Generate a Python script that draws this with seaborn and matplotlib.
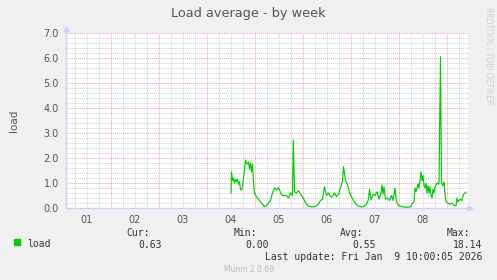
import numpy as np
import pandas as pd
import matplotlib
matplotlib.use("Agg")
import matplotlib.pyplot as plt
import seaborn as sns
from matplotlib.ticker import FixedLocator

# ---- data (hours since Jan 1 00:00, load average) ----
hours = [84.25, 84.5, 85, 85.5, 86, 86.5, 87, 87.5, 88, 88.5, 89, 89.5, 90, 90.5,
         91, 91.5, 92, 92.5, 93, 93.5, 94, 94.5, 95, 95.5, 96, 97, 98, 99, 100, 101,
         102, 103, 104, 105, 106, 107, 108, 109, 110, 111, 112, 113, 114, 115, 115.4,
         116, 117, 118, 119, 120, 121, 122, 123, 124, 125, 126, 127, 128, 129, 130,
         131, 132, 133, 134, 135, 136, 137, 138, 139, 140, 140.5, 141.5, 142.5, 143.5,
         144.5, 145.5, 146.5, 147.5, 149, 150.5, 152, 153, 153.5, 154.25, 155.25,
         156.25, 157.25, 158.25, 159.25, 159.75, 160.25, 160.75, 161.5, 162.5, 163.5,
         164.5, 165.25, 166.25, 167, 168, 170, 172, 174, 175, 175.75, 176.25, 176.75,
         177.75, 178.25, 178.75, 179.25, 179.75, 180.25, 180.75, 181.25, 181.75,
         182.25, 182.75, 183.25, 183.75, 184.25, 184.75, 185.25, 185.75, 186.25,
         187.25, 188.25, 189, 189.5, 190.25, 190.75, 191.25, 191.75, 192.75, 193.75,
         194.75, 195.75, 196.75, 197.25, 197.75, 198.75, 199.75, 200.5, 201.25, 201.75]
load = [0.61, 1.44, 1.1, 1.2, 1.0, 1.15, 1.05, 1.15, 0.95, 1.05, 0.75, 0.72, 0.85, 1.2,
        1.5, 1.92, 1.8, 1.75, 1.85, 1.55, 1.8, 1.45, 1.75, 1.0, 0.6, 0.45, 0.35, 0.25, 0.15, 0.05,
        0.1, 0.2, 0.3, 0.6, 0.8, 0.72, 0.82, 0.62, 0.5, 0.5, 0.5, 0.4, 0.6, 0.5, 2.72,
        0.65, 0.6, 0.7, 0.55, 0.45, 0.3, 0.15, 0.08, 0.05, 0.05, 0.05, 0.1, 0.15, 0.3, 0.35,
        0.85, 0.5, 0.6, 0.45, 0.45, 0.6, 0.45, 0.55, 0.8, 1.1, 1.65, 1.1, 0.95, 0.6,
        0.45, 0.3, 0.18, 0.1, 0.05, 0.05, 0.15, 0.35, 0.75, 0.32, 0.55,
        0.5, 0.65, 0.35, 0.6, 0.92, 0.55, 0.85, 0.35, 0.4, 0.3,
        0.5, 0.3, 0.79, 0.25, 0.1, 0.05, 0.03, 0.05, 0.18, 0.25, 0.8, 0.65,
        0.96, 0.8, 1.1, 1.45, 1.1, 1.3, 0.9, 0.8, 1.0,
        0.6, 0.9, 0.6, 0.85, 0.5, 0.4, 0.75, 0.6, 0.85,
        1.0, 0.95, 6.05, 1.0, 0.9, 1.05, 0.55, 0.25, 0.2, 0.15,
        0.2, 0.1, 0.08, 0.4, 0.25, 0.35, 0.3, 0.55, 0.6, 0.63]

day_labels = ["01", "02", "03", "04", "05", "06", "07", "08"]
y_labels = ["0.0", "1.0", "2.0", "3.0", "4.0", "5.0", "6.0", "7.0"]

title = "Load average - by week"
series_name = "load"
legend_stats = {"Cur:": "0.63", "Min:": "0.00", "Avg:": "0.55", "Max:": "18.14"}
last_update = "Last update: Fri Jan  9 10:00:05 2026"

# ---- figure ----
W, H = 497, 280
fig = plt.figure(figsize=(W / 100, H / 100), dpi=100, facecolor="#F0F0F0")
ax = fig.add_axes([66 / W, (H - 208) / H, 402 / W, 175 / H])
ax.set_facecolor("#FFFFFF")

df = pd.DataFrame({"hour": hours, "load": load})
sns.lineplot(data=df, x="hour", y="load", ax=ax, color="#00CC00", linewidth=0.85, zorder=5)

ax.set_xlim(1.75, 202.75)
ax.set_ylim(0, 7.0)

# ticks
ax.xaxis.set_major_locator(FixedLocator([12 + 24 * i for i in range(len(day_labels))]))
ax.set_xticklabels(day_labels)
ax.yaxis.set_major_locator(FixedLocator(range(len(y_labels))))
ax.set_yticklabels(y_labels)
ax.tick_params(axis="both", length=0, labelsize=7, colors="#555555")
ax.tick_params(axis="x", pad=5)
ax.tick_params(axis="y", pad=5)

# grids (manual)
for h in np.arange(6, 203, 6):
    if h % 24 == 0:
        ax.axvline(h, color="#F2A0A0", lw=0.7, ls=(0, (1, 1)), zorder=2)
    else:
        ax.axvline(h, color="#CFCFCF", lw=0.7, ls=(0, (1, 1)), zorder=1)
for v in np.arange(0.2, 7.01, 0.2):
    if abs(v - round(v)) < 1e-6:
        ax.axhline(v, color="#F2A0A0", lw=0.7, ls=(0, (1, 1)), zorder=2)
    else:
        ax.axhline(v, color="#CFCFCF", lw=0.7, ls=(0, (1, 1)), zorder=1)

for s in ["top", "right"]:
    ax.spines[s].set_visible(False)
for s in ["left", "bottom"]:
    ax.spines[s].set_color("#CFCFF5")
    ax.spines[s].set_linewidth(1.0)

# axis arrows
ax.plot([0], [1.022], marker="^", ms=3.5, color="#CFCFF5", transform=ax.transAxes, clip_on=False)
ax.plot([1.005], [0], marker=">", ms=3.5, color="#CFCFF5", transform=ax.transAxes, clip_on=False)

ax.set_xlabel("")
ax.set_ylabel(series_name, fontsize=7.5, color="#555555", labelpad=18)

def px(x, y):
    return x / W, 1 - y / H

fig.text(*px(248, 13), title, ha="center", va="center", fontsize=9.3, color="#555555")
fig.text(*px(489, 56), "RRDTOOL / TOBI OETIKER", rotation=270, ha="center", va="center",
         fontsize=5.5, color="#CFCFCF")

mono = "DejaVu Sans Mono"
fig.patches.append(plt.Rectangle(px(14, 245), 6 / W, 6 / H, transform=fig.transFigure,
                                 color="#00CC00", figure=fig))
fig.text(*px(27, 244), series_name, ha="left", va="center", fontsize=7, family=mono, color="#333333")
hdr_x = [150, 257, 363, 470]
val_x = [162, 269, 376, 482]
for (k, v), hx, vx in zip(legend_stats.items(), hdr_x, val_x):
    fig.text(*px(hx, 232.5), k, ha="right", va="center", fontsize=7, family=mono, color="#333333")
    fig.text(*px(vx, 244.5), v, ha="right", va="center", fontsize=7, family=mono, color="#333333")
fig.text(*px(482, 256.5), last_update, ha="right", va="center", fontsize=7, family=mono, color="#333333")
fig.text(*px(249, 269), "Munin 2.0.69", ha="center", va="center", fontsize=5.5, color="#BBBBBB")

fig.savefig("out.png", dpi=100, facecolor=fig.get_facecolor())
